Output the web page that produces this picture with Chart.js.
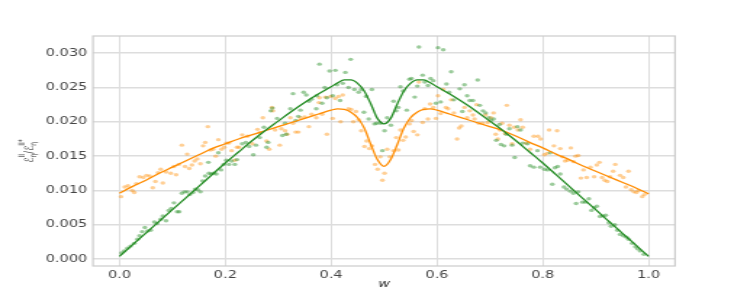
<!DOCTYPE html>
<html>
<head>
<meta charset="utf-8">
<script src="https://cdn.jsdelivr.net/npm/chart.js@4.4.1/dist/chart.umd.min.js"></script>
<style>
  html, body { margin: 0; padding: 0; background: #fff; overflow: hidden; }
  #wrap { width: 515px; height: 300px; transform: scaleX(1.4505); transform-origin: 0 0; }
</style>
</head>
<body>
<div id="wrap"><canvas id="myChart" width="515" height="300"></canvas></div>
<script>
// fitted curves
const lineW = [0, 0.025, 0.05, 0.075, 0.1, 0.125, 0.15, 0.175, 0.2, 0.225, 0.25, 0.275, 0.3, 0.325, 0.35, 0.375, 0.4,
  0.4125, 0.425, 0.4375, 0.45, 0.4625, 0.475, 0.4875, 0.5, 0.5125, 0.525, 0.5375, 0.55, 0.5625, 0.575, 0.5875, 0.6,
  0.625, 0.65, 0.675, 0.7, 0.725, 0.75, 0.775, 0.8, 0.825, 0.85, 0.875, 0.9, 0.925, 0.95, 0.975, 1.0];
const greenFit = [0.0004, 0.0021, 0.0038, 0.0055, 0.0072, 0.0089, 0.0106, 0.0123, 0.0140, 0.0156, 0.0172, 0.0187, 0.0201, 0.0215, 0.0228, 0.0240, 0.0251,
  0.0257, 0.0261, 0.0261, 0.0256, 0.0245, 0.0226, 0.0205, 0.0197, 0.0205, 0.0226, 0.0245, 0.0256, 0.0261, 0.0261, 0.0257, 0.0251,
  0.0240, 0.0228, 0.0215, 0.0201, 0.0187, 0.0172, 0.0156, 0.0140, 0.0123, 0.0106, 0.0089, 0.0072, 0.0055, 0.0038, 0.0021, 0.0004];
const orangeFit = [0.0096, 0.0106, 0.0115, 0.0125, 0.0134, 0.0143, 0.0152, 0.0161, 0.0168, 0.0175, 0.0181, 0.0187, 0.0193, 0.0199, 0.0205, 0.0211, 0.0217,
  0.0219, 0.0218, 0.0214, 0.0206, 0.0191, 0.0167, 0.0145, 0.0135, 0.0145, 0.0167, 0.0191, 0.0206, 0.0214, 0.0218, 0.0219, 0.0217,
  0.0211, 0.0205, 0.0199, 0.0193, 0.0187, 0.0179, 0.0170, 0.0162, 0.0153, 0.0145, 0.0136, 0.0128, 0.0120, 0.0112, 0.0104, 0.0095];

// sampled points
const orangeW = [0.003, 0.010, 0.016, 0.024, 0.028, 0.032, 0.038, 0.045, 0.051, 0.057, 0.063, 0.068, 0.073, 0.078, 0.082, 0.088, 0.097, 0.103, 0.107, 0.112,
  0.118, 0.124, 0.128, 0.132, 0.137, 0.142, 0.147, 0.153, 0.158, 0.162, 0.167, 0.172, 0.177, 0.182, 0.187, 0.193, 0.198, 0.202, 0.207, 0.212,
  0.218, 0.222, 0.226, 0.232, 0.242, 0.251, 0.261, 0.265, 0.271, 0.278, 0.283, 0.288, 0.290, 0.294, 0.303, 0.306, 0.313, 0.317, 0.323, 0.328,
  0.333, 0.338, 0.342, 0.350, 0.358, 0.363, 0.372, 0.377, 0.378, 0.383, 0.389, 0.392, 0.399, 0.403, 0.408, 0.414, 0.418, 0.422, 0.433, 0.438,
  0.442, 0.447, 0.452, 0.457, 0.463, 0.467, 0.472, 0.477, 0.483, 0.488, 0.493, 0.497, 0.501, 0.506, 0.511, 0.518, 0.523, 0.527, 0.531, 0.536,
  0.541, 0.548, 0.552, 0.556, 0.563, 0.566, 0.573, 0.577, 0.583, 0.587, 0.593, 0.598, 0.602, 0.607, 0.612, 0.617, 0.621, 0.627, 0.632, 0.638,
  0.642, 0.646, 0.652, 0.657, 0.662, 0.668, 0.671, 0.675, 0.679, 0.686, 0.692, 0.696, 0.702, 0.707, 0.711, 0.715, 0.719, 0.723, 0.729, 0.732,
  0.737, 0.742, 0.746, 0.753, 0.758, 0.762, 0.768, 0.776, 0.783, 0.791, 0.796, 0.803, 0.808, 0.812, 0.821, 0.827, 0.833, 0.837, 0.842, 0.847,
  0.853, 0.858, 0.862, 0.867, 0.872, 0.877, 0.883, 0.890, 0.897, 0.902, 0.907, 0.912, 0.917, 0.922, 0.927, 0.933, 0.937, 0.946, 0.952, 0.957,
  0.962, 0.967, 0.972, 0.977, 0.981, 0.988, 0.992];
const orangeV = [0.0091, 0.0105, 0.0107, 0.0100, 0.0097, 0.0110, 0.0120, 0.0119, 0.0122, 0.0121, 0.0104, 0.0113, 0.0126, 0.0131, 0.0111, 0.0127, 0.0125, 0.0135, 0.0123, 0.0138,
  0.0166, 0.0135, 0.0153, 0.0132, 0.0137, 0.0143, 0.0146, 0.0139, 0.0165, 0.0170, 0.0193, 0.0159, 0.0160, 0.0150, 0.0174, 0.0160, 0.0163, 0.0169, 0.0169, 0.0158,
  0.0144, 0.0163, 0.0163, 0.0181, 0.0179, 0.0168, 0.0189, 0.0184, 0.0206, 0.0172, 0.0160, 0.0221, 0.0216, 0.0188, 0.0166, 0.0190, 0.0187, 0.0182, 0.0206, 0.0198,
  0.0185, 0.0185, 0.0206, 0.0207, 0.0193, 0.0211, 0.0206, 0.0228, 0.0235, 0.0211, 0.0236, 0.0182, 0.0237, 0.0205, 0.0234, 0.0237, 0.0200, 0.0239, 0.0219, 0.0218,
  0.0200, 0.0215, 0.0203, 0.0187, 0.0164, 0.0172, 0.0161, 0.0165, 0.0138, 0.0131, 0.0149, 0.0115, 0.0125, 0.0160, 0.0149, 0.0158, 0.0177, 0.0159, 0.0188, 0.0173,
  0.0178, 0.0197, 0.0202, 0.0186, 0.0181, 0.0258, 0.0199, 0.0219, 0.0204, 0.0226, 0.0221, 0.0205, 0.0238, 0.0212, 0.0247, 0.0221, 0.0219, 0.0232, 0.0213, 0.0175,
  0.0191, 0.0194, 0.0221, 0.0206, 0.0216, 0.0210, 0.0204, 0.0225, 0.0198, 0.0198, 0.0210, 0.0199, 0.0206, 0.0213, 0.0182, 0.0175, 0.0188, 0.0198, 0.0183, 0.0224,
  0.0195, 0.0168, 0.0192, 0.0188, 0.0203, 0.0192, 0.0169, 0.0160, 0.0179, 0.0179, 0.0175, 0.0152, 0.0154, 0.0188, 0.0165, 0.0187, 0.0161, 0.0149, 0.0143, 0.0144,
  0.0162, 0.0142, 0.0150, 0.0151, 0.0118, 0.0130, 0.0119, 0.0134, 0.0120, 0.0137, 0.0141, 0.0119, 0.0115, 0.0113, 0.0120, 0.0128, 0.0138, 0.0122, 0.0119, 0.0105,
  0.0128, 0.0101, 0.0098, 0.0097, 0.0100, 0.0091, 0.0094];

const greenW = [0.004, 0.009, 0.015, 0.021, 0.028, 0.034, 0.038, 0.043, 0.048, 0.053, 0.059, 0.066, 0.071, 0.078, 0.082, 0.088, 0.093, 0.098, 0.103, 0.109,
  0.113, 0.118, 0.123, 0.128, 0.133, 0.139, 0.143, 0.148, 0.153, 0.157, 0.162, 0.168, 0.169, 0.173, 0.178, 0.183, 0.187, 0.192, 0.197, 0.202,
  0.207, 0.212, 0.218, 0.222, 0.232, 0.239, 0.245, 0.253, 0.258, 0.265, 0.273, 0.278, 0.281, 0.286, 0.289, 0.298, 0.308, 0.313, 0.315, 0.323,
  0.328, 0.333, 0.338, 0.342, 0.348, 0.353, 0.358, 0.363, 0.372, 0.373, 0.378, 0.383, 0.388, 0.392, 0.397, 0.403, 0.408, 0.411, 0.417, 0.422,
  0.427, 0.433, 0.437, 0.444, 0.452, 0.457, 0.462, 0.466, 0.471, 0.477, 0.482, 0.486, 0.493, 0.497, 0.501, 0.506, 0.513, 0.518, 0.523, 0.527,
  0.531, 0.536, 0.543, 0.548, 0.552, 0.558, 0.563, 0.566, 0.573, 0.577, 0.583, 0.588, 0.593, 0.598, 0.602, 0.607, 0.612, 0.618, 0.623, 0.627,
  0.632, 0.643, 0.648, 0.652, 0.657, 0.662, 0.668, 0.677, 0.681, 0.687, 0.692, 0.698, 0.702, 0.707, 0.712, 0.718, 0.721, 0.727, 0.731, 0.737,
  0.742, 0.747, 0.752, 0.758, 0.762, 0.771, 0.776, 0.783, 0.790, 0.795, 0.803, 0.809, 0.814, 0.818, 0.823, 0.828, 0.833, 0.840, 0.845, 0.852,
  0.858, 0.863, 0.867, 0.875, 0.881, 0.887, 0.892, 0.897, 0.902, 0.908, 0.914, 0.919, 0.925, 0.929, 0.936, 0.941, 0.946, 0.952, 0.958, 0.962,
  0.969, 0.975, 0.979, 0.984, 0.991];
const greenV = [0.0009, 0.0012, 0.0016, 0.0019, 0.0023, 0.0029, 0.0034, 0.0040, 0.0046, 0.0041, 0.0042, 0.0054, 0.0052, 0.0058, 0.0063, 0.0056, 0.0071, 0.0074, 0.0082, 0.0069,
  0.0069, 0.0096, 0.0098, 0.0098, 0.0094, 0.0097, 0.0102, 0.0101, 0.0098, 0.0114, 0.0121, 0.0141, 0.0125, 0.0124, 0.0125, 0.0124, 0.0155, 0.0130, 0.0138, 0.0144,
  0.0138, 0.0143, 0.0138, 0.0145, 0.0168, 0.0170, 0.0164, 0.0152, 0.0166, 0.0177, 0.0192, 0.0163, 0.0170, 0.0216, 0.0220, 0.0205, 0.0180, 0.0198, 0.0182, 0.0219,
  0.0241, 0.0202, 0.0208, 0.0217, 0.0243, 0.0239, 0.0230, 0.0233, 0.0219, 0.0238, 0.0284, 0.0227, 0.0250, 0.0235, 0.0274, 0.0238, 0.0275, 0.0254, 0.0231, 0.0256,
  0.0272, 0.0250, 0.0291, 0.0247, 0.0243, 0.0247, 0.0214, 0.0237, 0.0204, 0.0247, 0.0197, 0.0198, 0.0198, 0.0158, 0.0187, 0.0206, 0.0195, 0.0230, 0.0216, 0.0221,
  0.0251, 0.0245, 0.0217, 0.0262, 0.0263, 0.0236, 0.0252, 0.0309, 0.0268, 0.0258, 0.0253, 0.0263, 0.0260, 0.0227, 0.0308, 0.0229, 0.0305, 0.0255, 0.0243, 0.0273,
  0.0232, 0.0248, 0.0215, 0.0254, 0.0238, 0.0231, 0.0231, 0.0261, 0.0224, 0.0216, 0.0213, 0.0206, 0.0202, 0.0204, 0.0173, 0.0196, 0.0167, 0.0165, 0.0182, 0.0190,
  0.0166, 0.0148, 0.0193, 0.0188, 0.0169, 0.0168, 0.0136, 0.0134, 0.0158, 0.0134, 0.0131, 0.0130, 0.0155, 0.0109, 0.0133, 0.0135, 0.0124, 0.0105, 0.0102, 0.0099,
  0.0096, 0.0081, 0.0098, 0.0083, 0.0083, 0.0088, 0.0071, 0.0075, 0.0077, 0.0062, 0.0063, 0.0064, 0.0053, 0.0048, 0.0050, 0.0042, 0.0036, 0.0034, 0.0032, 0.0029,
  0.0023, 0.0018, 0.0015, 0.0012, 0.0007];

const xTicks = [0, 0.2, 0.4, 0.6, 0.8, 1.0];
const yTicks = [0, 0.005, 0.01, 0.015, 0.02, 0.025, 0.03];

function pairs(xs, ys) {
  return xs.map((x, i) => ({ x: x, y: ys[i] }));
}

// frame around the plot + axis titles
const framePlugin = {
  id: "frame",
  afterDraw(chart) {
    const ctx = chart.ctx;
    const a = chart.chartArea;
    ctx.save();
    ctx.strokeStyle = "#cccccc";
    ctx.lineWidth = 1.2;
    ctx.strokeRect(a.left, a.top, a.right - a.left, a.bottom - a.top);

    ctx.fillStyle = "#333";
    ctx.font = "italic 10px 'DejaVu Sans'";
    ctx.textAlign = "center";
    ctx.textBaseline = "middle";
    ctx.fillText("w", (a.left + a.right) / 2, 284);

    // y label: E_eta^II / E_eta^II*
    ctx.translate(20, (a.top + a.bottom) / 2);
    ctx.rotate(-Math.PI / 2);
    const big = "8.5px 'DejaVu Sans'";
    const small = "6px 'DejaVu Sans'";
    const parts = [
      { main: "ℰ", sub: "η", sup: "II" },
      { main: "/", sub: "", sup: "" },
      { main: "ℰ", sub: "η", sup: "II*" }
    ];
    let total = 0;
    const widths = parts.map(p => {
      ctx.font = big;
      const wm = ctx.measureText(p.main).width;
      ctx.font = small;
      const ws = Math.max(ctx.measureText(p.sub).width, ctx.measureText(p.sup).width);
      total += wm + ws;
      return [wm, ws];
    });
    let x = -total / 2;
    ctx.textAlign = "left";
    ctx.textBaseline = "alphabetic";
    parts.forEach((p, i) => {
      ctx.font = big;
      ctx.fillText(p.main, x, 3);
      x += widths[i][0];
      ctx.font = small;
      ctx.fillText(p.sub, x, 5);
      ctx.fillText(p.sup, x, -3);
      x += widths[i][1];
    });
    ctx.restore();
  }
};

const tickFont = { family: "DejaVu Sans", size: 10 };

new Chart(document.getElementById("myChart"), {
  type: "scatter",
  data: {
    datasets: [
      {
        data: pairs(lineW, greenFit),
        showLine: true,
        borderColor: "#228b22",
        borderWidth: 1.3,
        pointRadius: 0,
        cubicInterpolationMode: "monotone",
        order: 0
      },
      {
        data: pairs(lineW, orangeFit),
        showLine: true,
        borderColor: "#ff8c00",
        borderWidth: 1.3,
        pointRadius: 0,
        cubicInterpolationMode: "monotone",
        order: 1
      },
      {
        data: pairs(greenW, greenV),
        backgroundColor: "rgba(34,139,34,0.45)",
        borderWidth: 0,
        pointRadius: 1.7,
        order: 2
      },
      {
        data: pairs(orangeW, orangeV),
        backgroundColor: "rgba(255,140,0,0.42)",
        borderWidth: 0,
        pointRadius: 1.7,
        order: 3
      }
    ]
  },
  options: {
    responsive: false,
    animation: false,
    layout: { padding: { left: 0, right: 49.6, top: 36, bottom: 0 } },
    plugins: { legend: { display: false }, tooltip: { enabled: false } },
    scales: {
      x: {
        type: "linear",
        min: -0.05,
        max: 1.05,
        afterFit(scale) { scale.height = 34; },
        afterBuildTicks(scale) { scale.ticks = xTicks.map(v => ({ value: v })); },
        grid: { color: "#dddddd", lineWidth: 1, drawTicks: false },
        border: { display: false },
        ticks: { font: tickFont, color: "#444", padding: 3, maxRotation: 0, callback: v => v.toFixed(1) }
      },
      y: {
        type: "linear",
        min: -0.001,
        max: 0.0325,
        afterFit(scale) { scale.width = 64.1; },
        afterBuildTicks(scale) { scale.ticks = yTicks.map(v => ({ value: v })); },
        grid: { color: "#dddddd", lineWidth: 1.4, drawTicks: false },
        border: { display: false },
        ticks: { font: tickFont, color: "#444", padding: 4, callback: v => v.toFixed(3) }
      }
    }
  },
  plugins: [framePlugin]
});
</script>
</body>
</html>
